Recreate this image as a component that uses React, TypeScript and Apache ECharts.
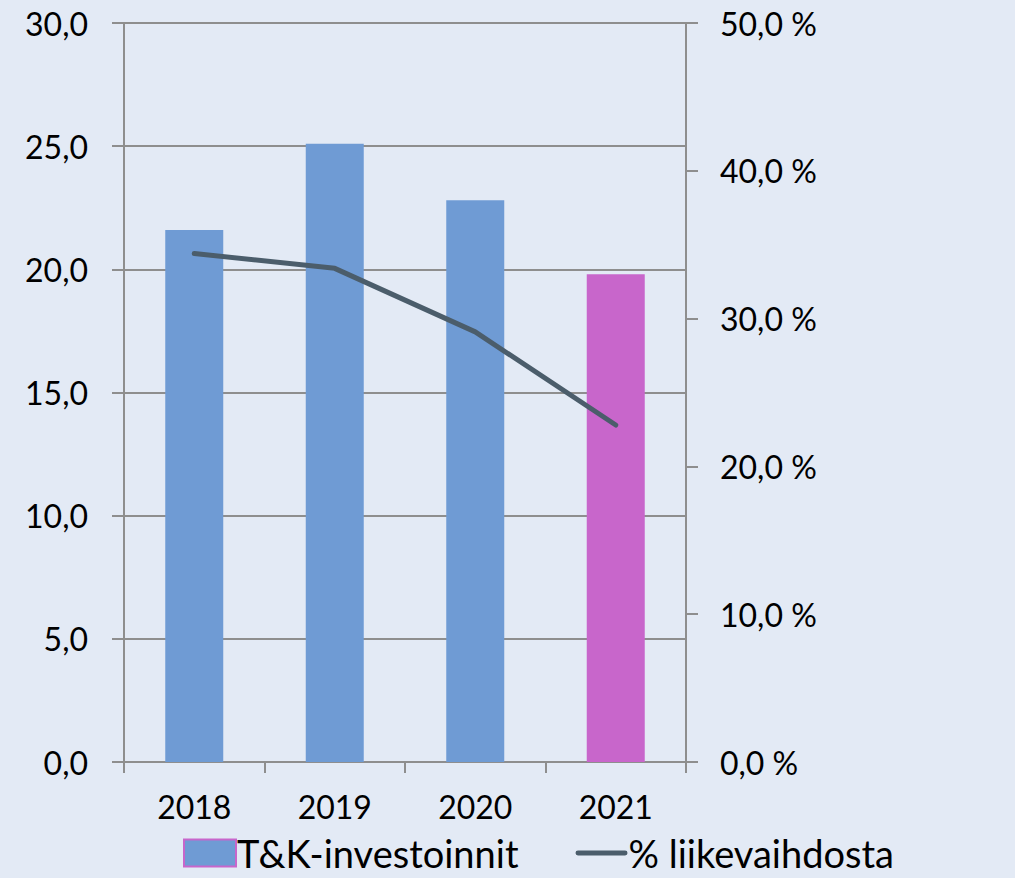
import React, { useEffect, useRef } from "react";
import * as echarts from "echarts";

const categories = ["2018", "2019", "2020", "2021"];
const investments = [21.6, 25.1, 22.8, 19.8];
const sharePercent = [34.4, 33.4, 29.1, 22.8];
const barColors = ["#6F9BD4", "#6F9BD4", "#6F9BD4", "#C866CB"];

const FONT = "Lato, 'Open Sans', sans-serif";

export default function App() {
  const ref = useRef<HTMLDivElement>(null);
  useEffect(() => {
    document.body.style.margin = "0";
    if (!ref.current) return;
    const chart = echarts.init(ref.current, undefined, { renderer: "svg" });
    const axisGray = "#8E8E8E";
    chart.setOption({
      animation: false,
      backgroundColor: "#E3EAF5",
      textStyle: { fontFamily: FONT },
      grid: { left: 124, right: 329, top: 23, bottom: 116 },
      legend: {
        left: 178,
        top: 829,
        itemWidth: 52,
        itemHeight: 27,
        itemGap: 57,
        textStyle: { fontSize: 38, color: "#000", fontFamily: FONT, padding: [0, 0, 0, -4] },
        data: [
          {
            name: "T&K-investoinnit",
            icon: "rect",
            itemStyle: { color: "#6F9BD4", borderColor: "#C866CB", borderWidth: 2 },
          },
          {
            name: "% liikevaihdosta",
            icon: "path://M2,0 L98,0 A5,5 0 0 1 98,10 L2,10 A5,5 0 0 1 2,0 Z",
            itemStyle: { color: "#4B5D6B", borderWidth: 0 },
          },
        ],
      },
      xAxis: {
        type: "category",
        data: categories,
        axisLine: { lineStyle: { color: axisGray, width: 2 } },
        axisTick: { show: true, length: 11, lineStyle: { color: axisGray, width: 2 } },
        axisLabel: { fontSize: 32, color: "#000", margin: 28, fontFamily: FONT },
      },
      yAxis: [
        {
          type: "value",
          min: 0,
          max: 30,
          interval: 5,
          axisLine: { show: true, lineStyle: { color: axisGray, width: 2 } },
          axisTick: { show: true, length: 12, lineStyle: { color: axisGray, width: 2 } },
          splitLine: { show: true, lineStyle: { color: axisGray, width: 2 } },
          axisLabel: {
            fontSize: 32,
            color: "#000",
            margin: 36,
            fontFamily: FONT,
            formatter: (v: number) => v.toFixed(1).replace(".", ","),
          },
        },
        {
          type: "value",
          min: 0,
          max: 50,
          interval: 10,
          position: "right",
          axisLine: { show: true, lineStyle: { color: axisGray, width: 2 } },
          axisTick: { show: true, length: 12, lineStyle: { color: axisGray, width: 2 } },
          splitLine: { show: false },
          axisLabel: {
            fontSize: 32,
            color: "#000",
            margin: 34,
            fontFamily: FONT,
            formatter: (v: number) => v.toFixed(1).replace(".", ",") + " %",
          },
        },
      ],
      series: [
        {
          name: "T&K-investoinnit",
          type: "bar",
          barWidth: 58,
          data: investments.map((v, i) => ({ value: v, itemStyle: { color: barColors[i] } })),
          itemStyle: { color: "#6F9BD4" },
        },
        {
          name: "% liikevaihdosta",
          type: "line",
          yAxisIndex: 1,
          data: sharePercent,
          symbol: "none",
          lineStyle: { color: "#4B5D6B", width: 5, cap: "round", join: "round" },
          itemStyle: { color: "#4B5D6B" },
        },
      ],
    });
    return () => chart.dispose();
  }, []);
  return <div ref={ref} style={{ width: 1015, height: 878 }} />;
}
